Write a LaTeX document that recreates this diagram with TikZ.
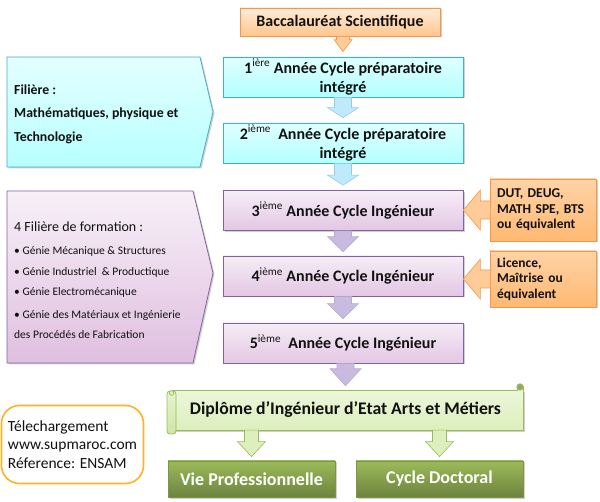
\documentclass[tikz,border=0pt]{standalone}
\usepackage{fontspec}
\setmainfont{Carlito}
\usetikzlibrary{calc,shadows}
\definecolor{obord}{HTML}{F79646}
\definecolor{bbord}{HTML}{4BACC6}
\definecolor{pbord}{HTML}{8064A2}
\definecolor{gbord}{HTML}{9BBB59}
\definecolor{txt}{HTML}{111111}
\definecolor{lav}{HTML}{C9BAE0}
\definecolor{lime}{HTML}{DCEFBC}
\tikzset{
  shad/.style={drop shadow={shadow xshift=1.5pt,shadow yshift=-1.5pt,opacity=0.3,fill=black!60}},
  boxbase/.style={rectangle,draw,line width=0.8pt,inner sep=2pt,align=center,text=txt,shad},
  bacbox/.style={boxbase,draw=obord,top color=orange!15!white,bottom color=orange!45!white,
     minimum width=200pt,minimum height=28pt,font=\bfseries\fontsize{16}{18}\selectfont},
  bluebox/.style={boxbase,draw=bbord,top color=cyan!12!white,bottom color=cyan!30!white,
     minimum width=240pt,minimum height=40pt,font=\bfseries\fontsize{16}{19}\selectfont},
  purplebox/.style={boxbase,draw=pbord,top color=violet!7!white,bottom color=violet!22!white,
     minimum width=240pt,minimum height=40pt,font=\bfseries\fontsize{16}{19}\selectfont},
  sidebox/.style={boxbase,draw=obord,top color=orange!35!white,bottom color=orange!55!white,
     minimum width=106pt,align=left,text width=92pt,inner xsep=7pt,font=\bfseries\fontsize{13.5}{15.5}\selectfont},
  greenbox/.style={boxbase,draw=gbord!80!black,top color=gbord,bottom color=gbord!70!black,
     minimum width=167pt,minimum height=36pt,text=white,font=\bfseries\fontsize{18}{20}\selectfont},
  orarr/.style={draw=obord,line width=0.6pt,fill=orange!40!white},
  blarr/.style={draw=bbord!60,line width=0.6pt,fill=cyan!25!white},
  purarr/.style={draw=pbord!55,line width=0.6pt,fill=lav},
  grarr/.style={draw=gbord,line width=0.6pt,fill=lime},
  leftlabel/.style={anchor=west,align=left,text=txt,inner sep=0pt},
}
% style, from, to, shaft half, head half, head length, gap
\newcommand\mydownarr[7]{%
  \draw[#1] let \p1=(#2.south), \p2=(#3.north) in
    (\x2-#4,\y1) -- (\x2+#4,\y1) -- (\x2+#4,\y2+#7+#6) -- (\x2+#5,\y2+#7+#6)
    -- (\x2,\y2+#7) -- (\x2-#5,\y2+#7+#6) -- (\x2-#4,\y2+#7+#6) -- cycle;}
% from (side box), to (main box)
\newcommand\myleftarr[2]{%
  \draw[orarr] let \p1=(#1.west), \p2=(#2.east) in
    (\x1+1pt,\y1+9pt) -- (\x2+17pt,\y1+9pt) -- (\x2+17pt,\y1+20pt) -- (\x2,\y1)
    -- (\x2+17pt,\y1-20pt) -- (\x2+17pt,\y1-9pt) -- (\x1+1pt,\y1-9pt) -- cycle;}
\begin{document}
\begin{tikzpicture}[x=1pt,y=-1pt]
\useasboundingbox (0,0) rectangle (600,502);
\fill[white] (0,0) rectangle (600,502);

% left panels
\draw[draw=bbord,line width=0.8pt,top color=cyan!11!white,bottom color=cyan!28!white,shad]
  (7,57) -- (200,57) -- (213,112) -- (200,167) -- (7,167) -- cycle;
\node[leftlabel,font=\bfseries\fontsize{13.8}{23.5}\selectfont] (lt1) at (14,114)
  {Filière :\\Mathématiques, physique et\\Technologie};
\draw[draw=pbord,line width=0.8pt,top color=violet!6!white,bottom color=violet!25!white,shad]
  (7,191) -- (193,191) -- (213,273) -- (193,363) -- (7,363) -- cycle;
\node[leftlabel,font=\fontsize{11.5}{20.5}\selectfont] (lt2) at (14,280)
  {{\fontsize{14}{15}\selectfont 4 Filière de formation :}\\[3pt]
   • Génie Mécanique \& Structures\\
   • Génie Industriel~ \& Productique\\
   • Génie Electromécanique\\[2pt]
   • Génie des Matériaux et Ingénierie\\
   des Procédés de Fabrication};

% main column
\node[bacbox] (bac) at (340,22) {Baccalauréat Scientifique};
\node[bluebox] (b1) at (343,77) {1\textsuperscript{\mdseries ière} Année Cycle préparatoire\\intégré};
\node[bluebox] (b2) at (343,143) {2\textsuperscript{\mdseries ième}~ Année Cycle préparatoire\\intégré};
\node[purplebox] (b3) at (343,210.5) {3\textsuperscript{\mdseries ième} Année Cycle Ingénieur};
\node[purplebox] (b4) at (343,276) {4\textsuperscript{\mdseries ième} Année Cycle Ingénieur};
\node[purplebox] (b5) at (343,343) {5\textsuperscript{\mdseries ième}~ Année Cycle Ingénieur};

% side boxes
\node[sidebox,minimum height=62pt] (s1) at (543,210) {DUT, DEUG,\\MATH SPE, BTS\\ou équivalent};
\node[sidebox,minimum height=56pt] (s2) at (543,279) {Licence,\\Maîtrise ou\\équivalent};

% diploma scroll
\fill[black!60,opacity=0.3] (174,392) rectangle (525,432);
\draw[draw=gbord,line width=0.8pt,top color=lime!50!white,bottom color=lime]
  (172,390) -- (517,390) -- (517,386) -- (523,386) -- (523,430) -- (172,430) -- cycle;
\draw[draw=gbord,line width=0.8pt,fill=gbord!70!gray] (520,387) circle (3.2pt);
\draw[draw=gbord,line width=0.8pt,top color=lime!70!white,bottom color=lime!80!gbord,rounded corners=3pt]
  (167,391) rectangle (176,434);
\draw[draw=gbord,line width=0.6pt,fill=lime] (171.5,393) circle (2.3pt);
\node[font=\bfseries\fontsize{17.7}{20}\selectfont,text=txt,minimum width=355pt,minimum height=40pt,inner sep=0pt]
  (dip) at (345.5,410) {Diplôme d’Ingénieur d’Etat Arts et Métiers};

% outcomes
\node[greenbox] (vie) at (251.5,479) {Vie Professionnelle};
\node[greenbox] (doc) at (439.5,479) {Cycle Doctoral};

% download box
\node[draw={rgb,255:red,255;green,178;blue,38},line width=1.6pt,rounded corners=18pt,
  minimum width=142pt,minimum height=78pt,align=left,text=txt,
  font=\fontsize{15.5}{18.5}\selectfont] (tele) at (72.5,444.5)
  {Télechargement\\www.supmaroc.com\\Réference: ENSAM};

% arrows
\mydownarr{orarr}{bac}{b1}{6.5pt}{9pt}{12pt}{5pt}
\mydownarr{blarr}{b1}{b2}{8.5pt}{15.5pt}{10pt}{5pt}
\mydownarr{blarr}{b2}{b3}{8.5pt}{15.5pt}{10pt}{5pt}
\mydownarr{purarr}{b3}{b4}{8.5pt}{15.5pt}{15pt}{4pt}
\mydownarr{purarr}{b4}{b5}{8.5pt}{15.5pt}{15pt}{4pt}
\mydownarr{purarr}{b5}{dip}{8.5pt}{15.5pt}{17pt}{4pt}
\mydownarr{grarr}{dip}{vie}{7pt}{14pt}{15pt}{4pt}
\mydownarr{grarr}{dip}{doc}{7pt}{14pt}{15pt}{4pt}
\myleftarr{s1}{b3}
\myleftarr{s2}{b4}
\end{tikzpicture}
\end{document}
